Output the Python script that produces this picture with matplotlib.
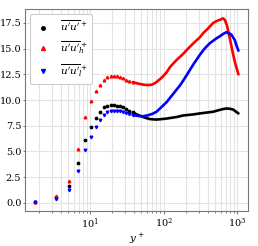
import matplotlib
matplotlib.use("Agg")
import matplotlib.pyplot as plt
from matplotlib.ticker import LogLocator, FormatStrFormatter

plt.rcParams['font.family'] = ['DejaVu Serif']
plt.rcParams['mathtext.fontset'] = 'dejavuserif'

# near-wall (discrete) points
yplus_near = [1.8, 3.5, 5.2, 6.95, 8.65, 10.3, 12.0, 13.7, 15.5, 17.2, 19.0, 21.0, 23.2, 25.5, 28.0, 31.0, 34.0, 38.0]
uu_near   = [0.1, 0.6, 1.63, 3.9, 6.1, 7.34, 8.22, 8.86, 9.29, 9.45, 9.51, 9.51, 9.45, 9.38, 9.28, 9.12, 8.98, 8.8]
uuh_near  = [0.1, 0.7, 2.14, 5.26, 8.37, 9.93, 10.9, 11.5, 11.95, 12.2, 12.3, 12.35, 12.32, 12.25, 12.1, 12.0, 11.85, 11.75]
uul_near  = [0.1, 0.4, 1.24, 3.09, 5.13, 6.43, 7.34, 8.05, 8.54, 8.8, 8.93, 8.96, 8.96, 8.92, 8.86, 8.75, 8.65, 8.55]

# outer region (dense points, drawn as thick curve)
yplus_uu  = [38, 45, 55, 65, 80, 110, 150, 185, 250, 311, 400, 471, 550, 620, 714, 800, 880, 950, 1040]
uu_outer  = [8.8, 8.55, 8.3, 8.15, 8.1, 8.2, 8.35, 8.5, 8.6, 8.7, 8.8, 8.86, 9.0, 9.1, 9.18, 9.15, 9.08, 8.9, 8.7]

yplus_uuh = [38, 45, 55, 62, 70, 80, 95, 110, 122, 150, 185, 205, 252, 311, 344, 400, 471, 530, 580, 640, 680, 730, 794, 860, 930, 1040]
uuh_outer = [11.75, 11.6, 11.48, 11.46, 11.5, 11.75, 12.2, 12.7, 13.2, 13.9, 14.5, 14.85, 15.5, 16.1, 16.5, 16.95, 17.5, 17.7, 17.8, 17.95, 17.8, 17.2, 16.0, 14.8, 13.7, 12.5]

yplus_uul = [38, 45, 52, 60, 70, 80, 90, 110, 135, 170, 205, 250, 311, 360, 420, 521, 580, 650, 714, 780, 835, 925, 980, 1040]
uul_outer = [8.55, 8.45, 8.42, 8.5, 8.65, 8.86, 9.2, 9.8, 10.6, 11.5, 12.4, 13.4, 14.4, 15.0, 15.5, 16.0, 16.2, 16.45, 16.6, 16.5, 16.35, 15.85, 15.3, 14.8]

labels = [r"$\overline{u'u'}^+$", r"$\overline{u'u'}_h^+$", r"$\overline{u'u'}_l^+$"]

fig = plt.figure(figsize=(2.58, 2.46), dpi=100)
ax = fig.add_axes([0.097, 0.142, 0.864, 0.821])

ax.plot(yplus_near, uu_near, 'o', color='black', ms=1.7, ls='none', label=labels[0])
ax.plot(yplus_near, uuh_near, '^', color='red', ms=1.9, ls='none', label=labels[1])
ax.plot(yplus_near, uul_near, 'v', color='blue', ms=1.9, ls='none', label=labels[2])

ax.plot(yplus_uu, uu_outer, '-', color='black', lw=1.9, solid_capstyle='round')
ax.plot(yplus_uuh, uuh_outer, '-', color='red', lw=1.9, solid_capstyle='round')
ax.plot(yplus_uul, uul_outer, '-', color='blue', lw=1.9, solid_capstyle='round')

ax.set_xscale('log')
ax.set_xlim(1.31, 1400)
ax.set_ylim(-0.8, 18.85)
ax.set_yticks([0, 2.5, 5, 7.5, 10, 12.5, 15, 17.5])
ax.yaxis.set_major_formatter(FormatStrFormatter('%.1f'))
ax.xaxis.set_major_locator(LogLocator(base=10, numticks=10))
ax.xaxis.set_minor_locator(LogLocator(base=10, subs=range(2, 10), numticks=20))

ax.grid(True, which='major', color='#e3e3e3', lw=0.8)
ax.grid(True, which='minor', axis='x', color='#e3e3e3', lw=0.8)
ax.set_axisbelow(True)
for s in ax.spines.values():
    s.set_color('#777777')
    s.set_linewidth(0.8)
ax.tick_params(axis='both', which='both', labelsize=7, colors='#555555', labelcolor='black')
ax.tick_params(axis='x', which='major', length=2.5, width=0.6, pad=1.5)
ax.tick_params(axis='x', which='minor', length=1.5, width=0.5)
ax.tick_params(axis='y', which='major', length=1.5, width=0.6, pad=1.2)
ax.set_xlabel(r"$y^+$", fontsize=7.5, labelpad=0.5)

leg = ax.legend(loc='upper left', fontsize=7.5, markerscale=1.5, handlelength=1.6,
                borderpad=0.45, labelspacing=0.6, framealpha=1, edgecolor='#cccccc',
                bbox_to_anchor=(0.0, 1.0))
leg.get_frame().set_linewidth(0.8)

fig.savefig('out.png', dpi=100)
